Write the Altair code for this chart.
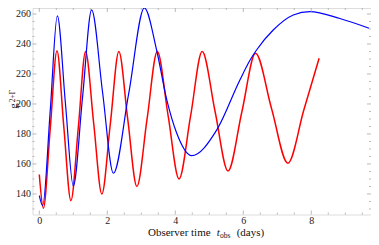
import altair as alt
import pandas as pd

# ---- data ----
red_t = [0.0, 0.12, 0.32, 0.52, 0.72, 0.93, 1.15, 1.36, 1.60, 1.84, 2.09, 2.34, 2.60, 2.87,
         3.17, 3.47, 3.79, 4.11, 4.45, 4.79, 5.17, 5.55, 5.96, 6.36, 6.83, 7.31, 7.78, 8.23]
red_g = [153.0, 130.5, 183.0, 235.5, 185.0, 135.5, 185.0, 235.0, 187.0, 140.0, 187.0, 235.0, 190.0, 145.0,
         190.0, 235.0, 192.0, 150.0, 192.0, 235.0, 195.0, 155.3, 195.0, 233.8, 197.0, 160.5, 196.0, 230.5]

blue_t = [0.0, 0.10, 0.32, 0.53, 0.77, 1.00, 1.27, 1.54, 1.86, 2.18, 2.63, 3.09, 3.45, 3.75,
          4.04, 4.48, 5.22, 5.90, 6.20, 6.39, 6.88, 7.47, 7.96, 8.84, 9.70]
blue_g = [138.9, 132.2, 195.0, 258.7, 200.0, 145.3, 204.0, 262.7, 208.0, 153.8, 207.0, 264.0, 236.0, 202.7,
          180.6, 165.5, 182.7, 216.0, 229.3, 236.0, 249.3, 259.3, 261.6, 257.0, 250.5]

x_major = [0, 2, 4, 6, 8]
x_minor = [0.5, 1, 1.5, 2.5, 3, 3.5, 4.5, 5, 5.5, 6.5, 7, 7.5, 8.5, 9, 9.5]
y_major = [140, 160, 180, 200, 220, 240, 260]
y_minor = [130, 135, 145, 150, 155, 165, 170, 175, 185, 190, 195, 205, 210, 215, 225, 230, 235, 245, 250, 255]

W, H = 338.5, 206.5
FRAME = "#a8a8a8"
SERIF = "Liberation Serif"

xs = alt.Scale(domain=[-0.2, 9.756], nice=False, zero=False)
ys = alt.Scale(domain=[126.3, 264.0], nice=False, zero=False)

x_axis = alt.Axis(values=x_major, ticks=False, domain=False, grid=False, title=None,
                  labelFont=SERIF, labelFontSize=10, labelColor="#222222", labelPadding=1,
                  labelFlush=False)
y_axis = alt.Axis(values=y_major, ticks=False, domain=False, grid=False, title=None,
                  labelFont=SERIF, labelFontSize=10, labelColor="#222222", labelPadding=2)

X = alt.X("t:Q", scale=xs, axis=x_axis)
Y = alt.Y("g:Q", scale=ys, axis=y_axis)

red_df = pd.DataFrame({"t": red_t, "g": red_g})
blue_df = pd.DataFrame({"t": blue_t, "g": blue_g})

red = alt.Chart(red_df).mark_line(color="#ff0000", strokeWidth=1.5, interpolate="monotone", clip=False).encode(x=X, y=Y)
blue = alt.Chart(blue_df).mark_line(color="#0000ff", strokeWidth=1.2, interpolate="monotone", clip=False).encode(x=X, y=Y)

def xticks(vals, length):
    df = pd.DataFrame({"t": vals})
    bot = alt.Chart(df).mark_rule(color=FRAME, strokeWidth=0.8).encode(
        x=X, y=alt.value(H), y2=alt.value(H - length))
    top = alt.Chart(df).mark_rule(color=FRAME, strokeWidth=0.8).encode(
        x=X, y=alt.value(0), y2=alt.value(length))
    return [bot, top]

def yticks(vals, length):
    df = pd.DataFrame({"g": vals})
    lef = alt.Chart(df).mark_rule(color=FRAME, strokeWidth=0.8).encode(
        y=Y, x=alt.value(0), x2=alt.value(length))
    rig = alt.Chart(df).mark_rule(color=FRAME, strokeWidth=0.8).encode(
        y=Y, x=alt.value(W), x2=alt.value(W - length))
    return [lef, rig]

tick_layers = xticks(x_major, 4) + xticks(x_minor, 2) + yticks(y_major, 4) + yticks(y_minor, 2)

lab = pd.DataFrame({"a": [0]})
def txt(s, x, y, size=11, style="normal", angle=0, align="left", baseline="alphabetic"):
    return alt.Chart(lab).mark_text(text=s, font=SERIF, fontSize=size, fontStyle=style, color="#111111",
                                    angle=angle, align=align, baseline=baseline).encode(
        x=alt.value(x), y=alt.value(y))

titles = [
    txt("Observer time", 115.5, 228),
    txt("t", 184.2, 228, style="italic"),
    txt("obs", 187.6, 230, size=7.5),
    txt("(days)", 204.2, 228),
    txt("g", -15.5, 98, angle=270, align="center"),
    txt("2+\u0393", -18.0, 88, size=7.5, angle=270, align="center"),
]

chart = alt.layer(red, blue, *tick_layers, *titles).properties(
    width=W, height=H,
    autosize=alt.AutoSizeParams(type="none"),
    padding={"left": 24.5, "top": 0, "right": 0, "bottom": 26},
).configure_view(stroke=FRAME, strokeWidth=1).configure(background="white")

chart.save("out.html", embed_options={"renderer": "svg", "actions": False})
